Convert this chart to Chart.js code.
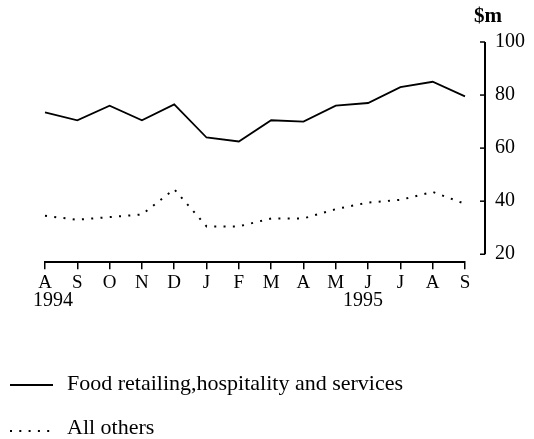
<!DOCTYPE html>
<html>
<head>
<meta charset="utf-8">
<script src="https://cdn.jsdelivr.net/npm/chart.js@4/dist/chart.umd.min.js"></script>
<style>
  html, body { margin: 0; padding: 0; background: #fff; }
  #wrap { width: 534px; height: 439px; position: relative; }
</style>
</head>
<body>
<div id="wrap"><canvas id="c" width="534" height="439"></canvas></div>
<script>
const months = ['A','S','O','N','D','J','F','M','A','M','J','J','A','S'];
const yearLabels = ['1994', '1995'];
const yearIndex = [0, 10];
const food = [73.5, 70.5, 76, 70.5, 76.5, 64, 62.5, 70.5, 70, 76, 77, 83, 85, 79.5];
const others = [34.5, 33, 34, 35, 44.5, 30.5, 30.5, 33.5, 33.5, 37, 39.5, 40.5, 43.5, 39];
const yTicks = [20, 40, 60, 80, 100];
const seriesNames = ['Food retailing,hospitality and services', 'All others'];

const SERIF = '"Liberation Serif", "DejaVu Serif", serif';

const decor = {
  id: 'decor',
  afterDraw(chart) {
    const ctx = chart.ctx;
    const ca = chart.chartArea;
    const ys = chart.scales.y;
    const xs = chart.scales.x;
    const axX = ca.right + 20;
    const yTop = ys.getPixelForValue(yTicks[yTicks.length - 1]);
    const yBot = ys.getPixelForValue(yTicks[0]);
    ctx.save();
    ctx.strokeStyle = '#000';
    ctx.lineWidth = 2;
    ctx.beginPath();
    ctx.moveTo(axX, yTop);
    ctx.lineTo(axX, yBot);
    ctx.stroke();
    ctx.lineWidth = 1.5;
    yTicks.forEach(v => {
      const p = ys.getPixelForValue(v);
      ctx.beginPath();
      ctx.moveTo(axX - 5, p);
      ctx.lineTo(axX, p);
      ctx.stroke();
    });
    // unit label
    ctx.fillStyle = '#000';
    ctx.font = 'bold 21px ' + SERIF;
    ctx.textAlign = 'left';
    ctx.textBaseline = 'middle';
    ctx.fillText('$m', axX - 11, 17);
    // year labels
    ctx.font = '20px ' + SERIF;
    yearLabels.forEach((t, i) => {
      const px = xs.getPixelForValue(yearIndex[i]);
      ctx.textAlign = i === 0 ? 'left' : 'center';
      ctx.fillText(t, i === 0 ? px - 12 : px - 5, 301);
    });
    // legend
    const ds = chart.data.datasets;
    const rows = [384, 428];
    ds.forEach((d, i) => {
      const y = rows[i];
      ctx.strokeStyle = d.borderColor;
      ctx.lineWidth = d.borderWidth;
      ctx.setLineDash(d.borderDash || []);
      ctx.beginPath();
      ctx.moveTo(10, y + 1 + i * 2);
      ctx.lineTo(53, y + 1 + i * 2);
      ctx.stroke();
      ctx.setLineDash([]);
      ctx.fillStyle = '#000';
      ctx.font = '22px ' + SERIF;
      ctx.textAlign = 'left';
      ctx.textBaseline = 'middle';
      ctx.fillText(d.label, 67, y);
    });
    ctx.restore();
  }
};

new Chart(document.getElementById('c'), {
  type: 'line',
  data: {
    labels: months,
    datasets: [
      { label: seriesNames[0], data: food, borderColor: '#000', borderWidth: 1.8, pointRadius: 0, tension: 0, fill: false },
      { label: seriesNames[1], data: others, borderColor: '#000', borderWidth: 2, borderDash: [2, 7.3], pointRadius: 0, tension: 0, fill: false }
    ]
  },
  options: {
    responsive: false,
    animation: false,
    events: [],
    layout: { padding: { left: 45, top: 41, right: 0, bottom: 143 } },
    plugins: { legend: { display: false }, tooltip: { enabled: false }, title: { display: false } },
    scales: {
      x: {
        type: 'category',
        offset: false,
        grid: { display: true, drawOnChartArea: false, drawTicks: true, tickLength: 7, color: '#000', lineWidth: 1.5 },
        border: { display: true, color: '#000', width: 2 },
        ticks: { color: '#000', font: { family: SERIF, size: 19 }, padding: 2, autoSkip: false, maxRotation: 0 }
      },
      y: {
        position: 'right',
        min: 17,
        max: 100,
        afterBuildTicks: (s) => { s.ticks = yTicks.map(v => ({ value: v })); },
        afterFit: (s) => { s.width = 69; },
        grid: { display: false, drawTicks: false },
        border: { display: false },
        ticks: { color: '#000', font: { family: SERIF, size: 20 }, padding: 30 }
      }
    }
  },
  plugins: [decor]
});
</script>
</body>
</html>
